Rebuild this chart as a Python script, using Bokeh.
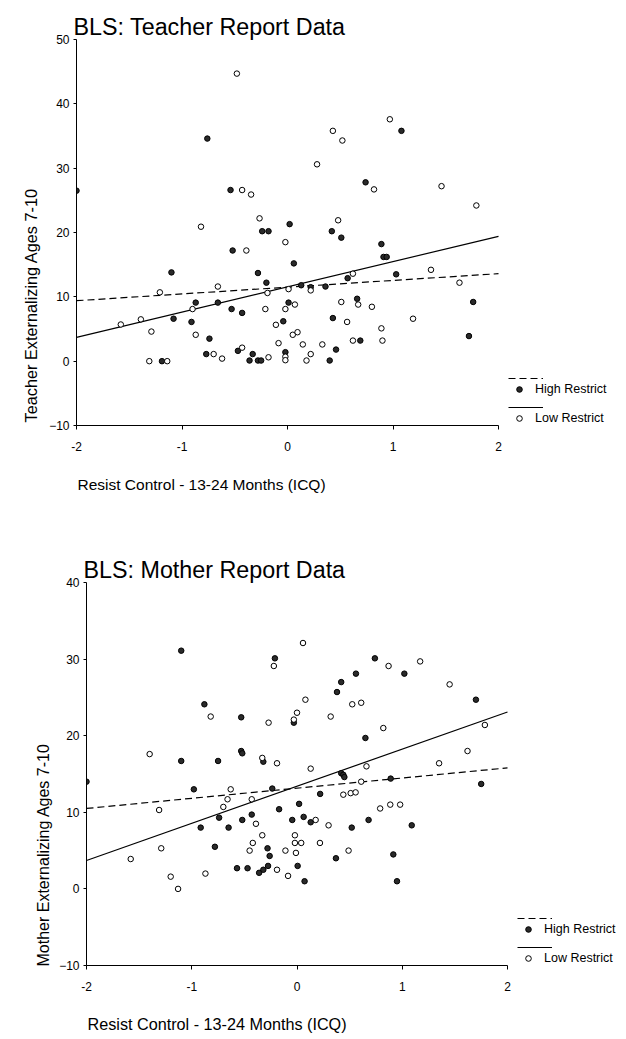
from bokeh.plotting import figure
from bokeh.models import Range1d, FixedTicker, Legend, LegendItem, Title
from bokeh.embed import file_html
from bokeh.resources import INLINE

FONT = "Liberation Sans"

# ---------------- data ----------------
x_ticks = [-2, -1, 0, 1, 2]
x_tick_labels = ["-2", "-1", "0", "1", "2"]
teacher_y_ticks = [-10, 0, 10, 20, 30, 40, 50]
mother_y_ticks = [-10, 0, 10, 20, 30, 40]

series_names = ["High Restrict", "Low Restrict"]
fit_x = [-2, 2]

# Teacher report - High Restrict (filled)
teacher_high_x = [-2.0, -0.76, -0.54, -0.24, -0.18, 0.02, -0.52, -1.10, -0.28, -0.20,
                  -0.87, -0.66, 0.01, -0.53, -0.43, -1.08, -0.91, -0.04, -0.74, -0.77,
                  -0.47, -0.33, -0.36, -0.28, -0.25, -1.19, -0.02, 1.08, 0.74, 0.42,
                  0.51, 0.89, 0.91, 0.94, 0.06, 1.03, 0.57, 0.13, 0.22, 0.36,
                  0.66, 1.76, 0.43, 0.69, 1.72, 0.46, 0.40]
teacher_high_y = [26.5, 34.6, 26.6, 20.2, 20.2, 21.3, 17.2, 13.8, 13.7, 12.2,
                  9.1, 9.1, 9.1, 8.1, 7.5, 6.6, 6.1, 6.2, 3.5, 1.1,
                  1.6, 1.1, 0.1, 0.1, 0.1, 0.0, 1.4, 35.8, 27.8, 20.2,
                  19.2, 18.2, 16.2, 16.2, 15.2, 13.5, 12.9, 11.8, 11.5, 11.6,
                  9.7, 9.2, 6.7, 3.2, 3.9, 1.8, 0.1]
# Teacher report - Low Restrict (open)
teacher_low_x = [-0.48, -0.43, -0.345, -0.265, -0.82, -0.02, -0.39, -0.66, -1.21, -0.19,
                 0.01, -0.90, -0.21, -0.02, -1.58, -1.39, -1.29, -0.87, -0.11, -0.085,
                 -0.70, -0.43, -0.62, -0.18, -1.31, -1.14, -0.02, -0.02, 0.97, 0.43,
                 0.52, 0.28, 0.82, 1.46, 1.79, 0.48, 1.36, 0.62, 1.63, 0.22,
                 0.67, 0.51, 0.80, 0.07, 0.565, 1.19, 0.89, 0.05, 0.095, 0.145,
                 0.33, 0.62, 0.90, 0.22, 0.18]
teacher_low_y = [44.7, 26.6, 25.9, 22.2, 20.9, 18.5, 17.2, 11.6, 10.7, 10.6,
                 11.2, 8.1, 8.1, 8.1, 5.7, 6.5, 4.6, 4.1, 5.65, 2.8,
                 1.1, 2.1, 0.4, 0.6, 0.0, 0.0, 0.7, 0.15, 37.6, 35.8,
                 34.3, 30.6, 26.7, 27.2, 24.2, 21.9, 14.2, 13.6, 12.2, 11.0,
                 8.8, 9.2, 8.45, 8.8, 6.1, 6.6, 5.1, 4.1, 4.5, 2.6,
                 2.6, 3.2, 3.2, 1.1, 0.1]
teacher_high_fit = [9.4, 13.6]
teacher_low_fit = [3.7, 19.4]

# Mother report - High Restrict (filled)
mother_high_x = [-1.10, -0.21, -0.88, -0.53, -0.03, -1.10, -0.75, -0.53, -0.52, -0.32,
                 -2.0, -0.98, -0.235, 0.02, -0.17, -0.74, -0.52, -0.43, -0.045, -0.915,
                 -0.65, -0.78, -0.28, -0.26, -0.57, -0.47, -0.36, -0.32, -0.275, 0.006,
                 0.74, 0.56, 1.02, 0.42, 0.38, 1.70, 0.65, 0.42, 0.44, 0.45,
                 0.89, 1.75, 0.22, 0.063, 0.13, 0.68, 0.52, 1.09, 0.37, 0.915,
                 0.072, 0.95]
mother_high_y = [31.1, 30.1, 24.1, 22.4, 21.7, 16.7, 16.7, 18.0, 17.7, 16.6,
                 14.0, 13.0, 13.1, 11.1, 10.4, 9.3, 9.0, 9.7, 9.0, 8.0,
                 8.0, 5.5, 5.3, 4.3, 2.7, 2.7, 2.1, 2.5, 3.0, 3.0,
                 30.1, 28.1, 28.1, 27.0, 25.7, 24.7, 19.7, 15.1, 14.9, 14.6,
                 14.4, 13.7, 12.4, 9.4, 8.7, 9.0, 8.0, 8.3, 4.0, 4.5,
                 1.0, 1.0]
# Mother report - Low Restrict (open)
mother_low_x = [-0.22, -0.82, -0.27, 0.0, -0.03, -1.40, -0.33, -0.19, -0.63, -0.66,
                -0.43, -0.70, -1.31, -0.39, -0.33, -0.02, -0.02, 0.04, -0.42, -1.29,
                -0.45, -0.11, -0.01, -1.58, -0.19, -0.085, -1.20, -0.87, -1.13, 0.057,
                0.87, 1.17, 1.45, 0.08, 0.525, 0.61, 0.32, 0.82, 1.785, 1.62,
                0.13, 0.66, 1.35, 0.61, 0.44, 0.51, 0.557, 0.79, 0.886, 0.98,
                0.177, 0.30, 0.218, 0.49]
mother_low_y = [29.1, 22.5, 21.7, 23.0, 22.1, 17.6, 17.1, 16.4, 13.0, 11.7,
                11.7, 10.7, 10.3, 8.5, 7.0, 7.0, 6.0, 6.0, 6.0, 5.3,
                5.0, 5.0, 4.7, 3.9, 2.5, 1.7, 1.6, 2.0, 0.0, 32.1,
                29.1, 29.7, 26.7, 24.7, 24.1, 24.3, 22.5, 21.0, 21.4, 18.0,
                15.7, 16.0, 16.4, 14.0, 12.3, 12.5, 12.6, 10.5, 11.0, 11.0,
                9.0, 8.3, 6.0, 5.0]
mother_high_fit = [10.5, 15.8]
mother_low_fit = [3.7, 23.1]

W = 626
R_BORDER = 2
TITLE_HAS_PADDING = "padding" in Title.properties()


def make_chart(title, ylabel, xlabel, hx, hy, lx, ly, hfit, lfit, yticks,
               height, page_top, frame_top, frame_bottom, axis_px, px_per_unit,
               xlabel_size, xlabel_gap, ylabel_size, ylabel_offset, ylabel_standoff,
               leg_x, leg_lines_y, leg_marks_y):
    frame_w = W - axis_px - R_BORDER
    x_end = x_ticks[0] + frame_w / px_per_unit
    p = figure(width=W, height=height,
               x_range=Range1d(x_ticks[0], x_end),
               y_range=Range1d(yticks[0], yticks[-1]),
               output_backend="svg", toolbar_location=None,
               min_border_left=axis_px, min_border_right=R_BORDER,
               min_border_top=frame_top - page_top,
               min_border_bottom=page_top + height - frame_bottom)
    p.outline_line_color = None
    p.grid.visible = False
    p.background_fill_color = "white"
    p.border_fill_color = "white"

    p.title.text = title
    p.title.text_font = FONT
    p.title.text_font_size = "23.3px"
    p.title.text_font_style = "normal"
    p.title.text_color = "black"
    p.title.align = "left"
    p.title.offset = -3
    p.title.standoff = 0

    for ax in (p.xaxis[0], p.yaxis[0]):
        ax.axis_line_color = "black"
        ax.axis_line_width = 1
        ax.major_tick_line_color = "black"
        ax.major_tick_out = 4
        ax.major_tick_in = 0
        ax.minor_tick_out = 0
        ax.minor_tick_in = 0
        ax.major_label_text_font = FONT
        ax.major_label_text_font_size = "12px"
        ax.major_label_text_color = "black"

    p.xaxis.ticker = FixedTicker(ticks=x_ticks, minor_ticks=[])
    p.xaxis.bounds = (x_ticks[0], x_ticks[-1])
    p.xaxis.major_label_overrides = {t: s for t, s in zip(x_ticks, x_tick_labels)}
    p.xaxis.major_label_standoff = 12
    p.yaxis.ticker = FixedTicker(ticks=yticks, minor_ticks=[])
    p.yaxis.major_tick_out = 3
    p.yaxis.major_label_standoff = 4

    xt = Title(text=xlabel, align="left", offset=1, vertical_align="top",
               text_font=FONT, text_font_size=xlabel_size,
               text_font_style="normal", text_color="black")
    if TITLE_HAS_PADDING:
        xt.standoff = 0
        xt.padding = dict(top=xlabel_gap, bottom=0, left=0, right=0)
    else:
        xt.standoff = 2 * xlabel_gap
    p.add_layout(xt, "below")

    yt = Title(text=ylabel, align="left", offset=ylabel_offset, standoff=ylabel_standoff,
               text_font=FONT, text_font_size=ylabel_size, text_font_style="normal",
               text_color="black")
    p.add_layout(yt, "left")

    hline = p.line(fit_x, hfit, line_color="black", line_width=1.2, line_dash="7 4")
    lline = p.line(fit_x, lfit, line_color="black", line_width=1.2)
    hs = p.scatter(hx, hy, marker="circle", size=5.5, fill_color="#2a2a2a",
                   line_color="black", line_width=1)
    ls = p.scatter(lx, ly, marker="circle", size=5.5, fill_color="white",
                   line_color="black", line_width=1)

    common = dict(padding=0, margin=0, border_line_color=None,
                  background_fill_alpha=0, glyph_height=14, label_height=14,
                  spacing=15, label_text_font=FONT, label_text_font_size="12.5px",
                  label_text_color="black")
    leg_lines = Legend(items=[LegendItem(label=" ", renderers=[hline]),
                              LegendItem(label=" ", renderers=[lline])],
                       location=(leg_x - axis_px, leg_lines_y), glyph_width=35,
                       label_standoff=0, label_width=5, **common)
    leg_marks = Legend(items=[LegendItem(label=series_names[0], renderers=[hs]),
                              LegendItem(label=series_names[1], renderers=[ls])],
                       location=(leg_x + 1 - axis_px, leg_marks_y), glyph_width=20,
                       label_standoff=6, **common)
    p.add_layout(leg_lines)
    p.add_layout(leg_marks)
    return p


H1 = 505
p1 = make_chart("BLS:  Teacher Report Data", "Teacher Externalizing Ages 7-10",
                "Resist Control - 13-24 Months (ICQ)",
                teacher_high_x, teacher_high_y, teacher_low_x, teacher_low_y,
                teacher_high_fit, teacher_low_fit, teacher_y_ticks,
                height=H1, page_top=0, frame_top=39, frame_bottom=425, axis_px=76,
                px_per_unit=105.5, xlabel_size="15.5px", xlabel_gap=22,
                ylabel_size="16.3px", ylabel_offset=3, ylabel_standoff=13,
                leg_x=508, leg_lines_y=11, leg_marks_y=0)
H2 = 1037 - H1
p2 = make_chart("BLS:  Mother Report Data", "Mother Externalizing Ages 7-10",
                "Resist Control - 13-24 Months (ICQ)",
                mother_high_x, mother_high_y, mother_low_x, mother_low_y,
                mother_high_fit, mother_low_fit, mother_y_ticks,
                height=H2, page_top=H1, frame_top=582, frame_bottom=965, axis_px=86,
                px_per_unit=105.25, xlabel_size="16.2px", xlabel_gap=21,
                ylabel_size="16px", ylabel_offset=-1, ylabel_standoff=10,
                leg_x=517, leg_lines_y=11, leg_marks_y=0)

# two independent roots, stacked on the page (so each keeps its own frame position)
open("out.html", "w").write(file_html((p1, p2), INLINE))
